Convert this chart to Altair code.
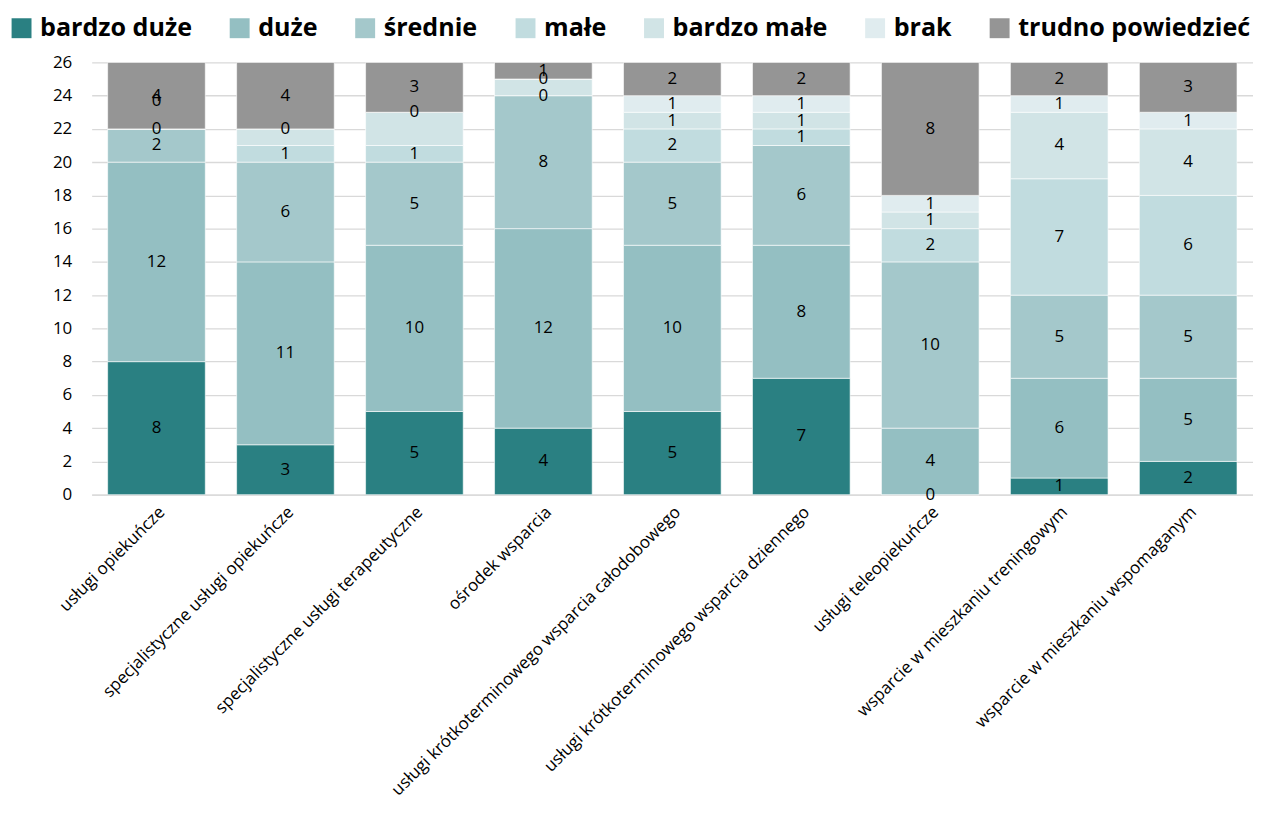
import altair as alt
import pandas as pd

categories = [
    "usługi opiekuńcze",
    "specjalistyczne usługi opiekuńcze",
    "specjalistyczne usługi terapeutyczne",
    "ośrodek wsparcia",
    "usługi krótkoterminowego wsparcia całodobowego",
    "usługi krótkoterminowego wsparcia dziennego",
    "usługi teleopiekuńcze",
    "wsparcie w mieszkaniu treningowym",
    "wsparcie w mieszkaniu wspomaganym",
]
series = ["bardzo duże", "duże", "średnie", "małe", "bardzo małe", "brak", "trudno powiedzieć"]
colors = ["#2a8082", "#94bfc2", "#a4c8cb", "#c1dcdf", "#d1e4e6", "#e0ecef", "#959595"]

bardzo_duze = [8, 3, 5, 4, 5, 7, 0, 1, 2]
duze = [12, 11, 10, 12, 10, 8, 4, 6, 5]
srednie = [2, 6, 5, 8, 5, 6, 10, 5, 5]
male = [0, 1, 1, 0, 2, 1, 2, 7, 6]
bardzo_male = [0, 1, 2, 1, 1, 1, 1, 4, 4]
brak = [0, 0, 0, 0, 1, 1, 1, 1, 1]
trudno = [4, 4, 3, 1, 2, 2, 8, 2, 3]

y_ticks = list(range(0, 27, 2))
# labels not shown in the original (category index, series)
hidden_labels = [(0, "bardzo małe"), (1, "bardzo małe"), (2, "bardzo małe"), (3, "bardzo małe")]
# label moved upward with a leader line in the original
moved_label = (0, "brak")

all_vals = [bardzo_duze, duze, srednie, male, bardzo_male, brak, trudno]
rows = []
for si, (s, vals) in enumerate(zip(series, all_vals)):
    for ci, (c, v) in enumerate(zip(categories, vals)):
        rows.append({
            "cat": c, "series": s, "value": v, "order": si,
            "show": (ci, s) not in hidden_labels and (ci, s) != moved_label,
            "moved": (ci, s) == moved_label,
        })
df = pd.DataFrame(rows)

FONT = "Open Sans"

base = alt.Chart(df).transform_stack(
    stack="value", as_=["v0", "v1"], groupby=["cat"],
    sort=[alt.SortField("order", order="ascending")],
).transform_calculate(mid="(datum.v0 + datum.v1) / 2")

xscale = alt.Scale(paddingInner=0.243, paddingOuter=0.124)
yscale = alt.Scale(domain=[0, 26], nice=False)

xaxis = alt.Axis(labelAngle=-45, labelFontSize=17, labelFont=FONT,
                 labelColor="#000000", ticks=False, domainColor="#d9d9d9",
                 domainWidth=1.3, labelPadding=9, labelLimit=500)
yaxis = alt.Axis(values=y_ticks, labelFontSize=17, labelFont=FONT,
                 labelColor="#000000", ticks=False, domain=False,
                 labelOverlap=False, labelFlush=False,
                 gridColor="#d9d9d9", gridWidth=1.3, labelPadding=20)

bars = base.mark_bar(stroke="white", strokeWidth=0.6).encode(
    x=alt.X("cat:N", sort=categories, title=None, scale=xscale, axis=xaxis),
    y=alt.Y("v0:Q", title=None, scale=yscale, axis=yaxis),
    y2="v1:Q",
    color=alt.Color("series:N", sort=series,
                    scale=alt.Scale(domain=series, range=colors),
                    legend=alt.Legend(title=None, orient="none", direction="horizontal",
                                      legendX=-83, legendY=-47,
                                      symbolType="square", symbolSize=400,
                                      symbolStrokeWidth=0, labelFontSize=25.2,
                                      labelFont=FONT, labelFontWeight="bold",
                                      labelColor="#000000", columnPadding=35,
                                      labelOffset=6, labelLimit=500)),
    order=alt.Order("order:Q"),
)

labels = base.transform_filter("datum.show").mark_text(
    fontSize=17, font=FONT, color="#000000", baseline="middle"
).encode(
    x=alt.X("cat:N", sort=categories, title=None, scale=xscale, axis=xaxis),
    y=alt.Y("mid:Q", title=None, scale=yscale, axis=yaxis),
    text=alt.Text("value:Q"),
)

moved = base.transform_filter("datum.moved").mark_text(
    fontSize=17, font=FONT, color="#000000", baseline="middle", dy=-28
).encode(
    x=alt.X("cat:N", sort=categories, title=None, scale=xscale, axis=xaxis),
    y=alt.Y("mid:Q", title=None, scale=yscale, axis=yaxis),
    text=alt.Text("value:Q"),
)

chart = alt.layer(bars, labels, moved).properties(
    width=1166, height=434,
    padding={"left": 1, "top": 6, "right": 0, "bottom": 5},
).configure_view(stroke=None)

chart.save("out.html", embed_options={"renderer": "svg", "actions": False})
